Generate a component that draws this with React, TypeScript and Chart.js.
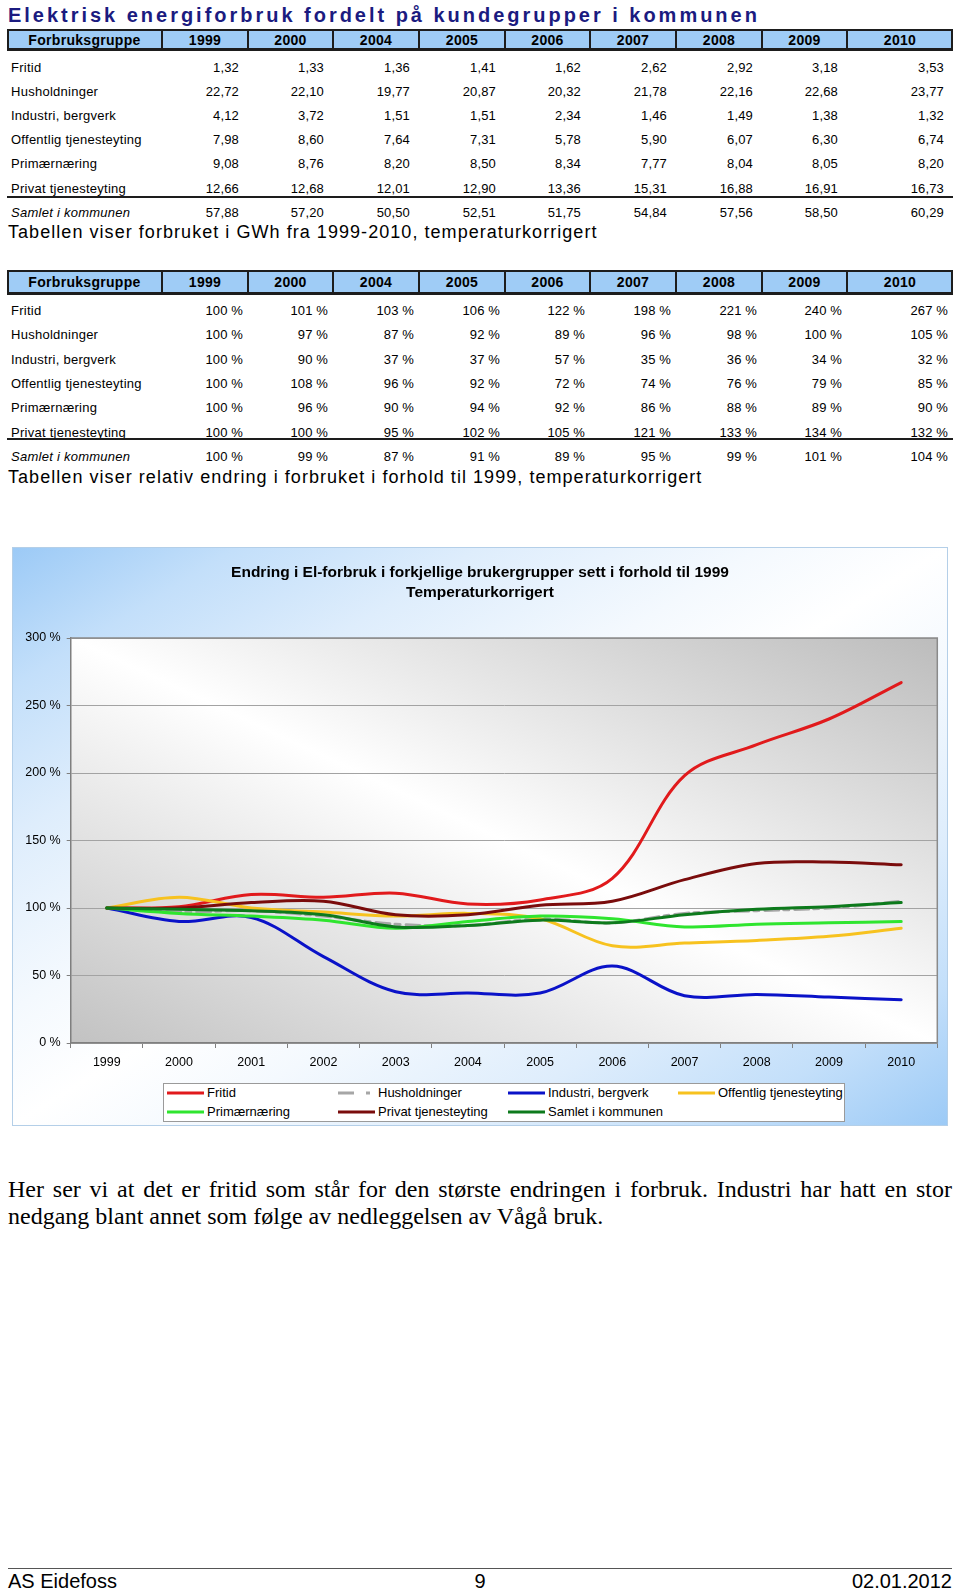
import React, { useEffect, useRef } from 'react';
import { Chart, registerables } from 'chart.js';

Chart.register(...registerables);

const SANS = '"Liberation Sans", Arial, Helvetica, sans-serif';
const SERIF = '"Liberation Serif", "Times New Roman", serif';

// ---------- Table data ----------
const tableYears = ['1999', '2000', '2004', '2005', '2006', '2007', '2008', '2009', '2010'];
const groupNames = [
  'Fritid',
  'Husholdninger',
  'Industri, bergverk',
  'Offentlig tjenesteyting',
  'Primærnæring',
  'Privat tjenesteyting',
];
const totalName = 'Samlet i kommunen';

const gwhFritid = [1.32, 1.33, 1.36, 1.41, 1.62, 2.62, 2.92, 3.18, 3.53];
const gwhHusholdninger = [22.72, 22.1, 19.77, 20.87, 20.32, 21.78, 22.16, 22.68, 23.77];
const gwhIndustri = [4.12, 3.72, 1.51, 1.51, 2.34, 1.46, 1.49, 1.38, 1.32];
const gwhOffentlig = [7.98, 8.6, 7.64, 7.31, 5.78, 5.9, 6.07, 6.3, 6.74];
const gwhPrimaer = [9.08, 8.76, 8.2, 8.5, 8.34, 7.77, 8.04, 8.05, 8.2];
const gwhPrivat = [12.66, 12.68, 12.01, 12.9, 13.36, 15.31, 16.88, 16.91, 16.73];
const gwhSamlet = [57.88, 57.2, 50.5, 52.51, 51.75, 54.84, 57.56, 58.5, 60.29];

const pctFritid = [100, 101, 103, 106, 122, 198, 221, 240, 267];
const pctHusholdninger = [100, 97, 87, 92, 89, 96, 98, 100, 105];
const pctIndustri = [100, 90, 37, 37, 57, 35, 36, 34, 32];
const pctOffentlig = [100, 108, 96, 92, 72, 74, 76, 79, 85];
const pctPrimaer = [100, 96, 90, 94, 92, 86, 88, 89, 90];
const pctPrivat = [100, 100, 95, 102, 105, 121, 133, 134, 132];
const pctSamlet = [100, 99, 87, 91, 89, 95, 99, 101, 104];

// ---------- Chart data ----------
const chartYears = ['1999', '2000', '2001', '2002', '2003', '2004', '2005', '2006', '2007', '2008', '2009', '2010'];
const chartFritid = [100, 101, 110, 108, 111, 103, 106, 122, 198, 221, 240, 267];
const chartHusholdninger = [100, 97, 98, 94, 88, 87, 92, 89, 96, 98, 100, 105];
const chartIndustri = [100, 90, 93, 64, 38, 37, 37, 57, 35, 36, 34, 32];
const chartOffentlig = [100, 108, 100, 97, 94, 96, 92, 72, 74, 76, 79, 85];
const chartPrimaer = [100, 96, 94, 91, 85, 90, 94, 92, 86, 88, 89, 90];
const chartPrivat = [100, 100, 104, 105, 95, 95, 102, 105, 121, 133, 134, 132];
const chartSamlet = [100, 99, 98, 95, 86, 87, 91, 89, 95, 99, 101, 104];
const yTicks = [0, 50, 100, 150, 200, 250, 300];

const seriesNames = [
  'Fritid',
  'Husholdninger',
  'Industri, bergverk',
  'Offentlig tjenesteyting',
  'Primærnæring',
  'Privat tjenesteyting',
  'Samlet i kommunen',
];
const seriesColors = ['#e11a1c', '#a6a6a6', '#0a12c8', '#f7c21f', '#2fe52f', '#7a0c0c', '#0d7a1c'];
const HUS_DASH = [14, 5, 5, 6];

const fmtNum = (v: number) => v.toFixed(2).replace('.', ',');
const fmtPct = (v: number) => `${v} %`;

const colEdges = [7, 162, 248, 333, 419, 505, 590, 676, 762, 847, 953];

type Row = { label: string; cells: string[]; italic?: boolean };

function DataTable(props: {
  headTop: number;
  headBottom: number;
  rowTop0: number;
  rowStep: number;
  underlineY: number;
  rows: Row[];
  padRight: number;
}) {
  const { headTop, headBottom, rowTop0, rowStep, underlineY, rows, padRight } = props;
  const hh = headBottom - headTop;
  const headers = ['Forbruksgruppe', ...tableYears];
  const els: React.ReactNode[] = [];
  els.push(
    <div
      key="hbg"
      style={{
        position: 'absolute',
        left: colEdges[0],
        top: headTop,
        width: colEdges[colEdges.length - 1] - colEdges[0],
        height: hh,
        background: '#9fccf6',
        border: '2px solid #1d1d1d',
        borderBottomWidth: 3,
        boxSizing: 'border-box',
      }}
    />
  );
  for (let i = 1; i < colEdges.length - 1; i++) {
    els.push(
      <div
        key={'vl' + i}
        style={{
          position: 'absolute',
          left: colEdges[i] - 0.75,
          top: headTop,
          width: 1.5,
          height: hh,
          background: '#1d1d1d',
        }}
      />
    );
  }
  headers.forEach((h, i) => {
    els.push(
      <div
        key={'h' + i}
        style={{
          position: 'absolute',
          left: colEdges[i],
          width: colEdges[i + 1] - colEdges[i],
          top: headTop,
          height: hh,
          lineHeight: hh + 'px',
          textAlign: 'center',
          fontFamily: SANS,
          fontWeight: 'bold',
          fontSize: 14,
          letterSpacing: 0.3,
          color: '#000',
        }}
      >
        {h}
      </div>
    );
  });
  rows.forEach((r, ri) => {
    const cy = rowTop0 + ri * rowStep;
    els.push(
      <div
        key={'l' + ri}
        style={{
          position: 'absolute',
          left: 11,
          top: cy - 10,
          height: 20,
          lineHeight: '20px',
          fontFamily: SANS,
          fontSize: 13,
          letterSpacing: 0.26,
          fontStyle: r.italic ? 'italic' : 'normal',
          whiteSpace: 'nowrap',
          color: '#000',
        }}
      >
        {r.label}
      </div>
    );
    r.cells.forEach((c, ci) => {
      els.push(
        <div
          key={'c' + ri + '_' + ci}
          style={{
            position: 'absolute',
            left: colEdges[ci + 1],
            width: colEdges[ci + 2] - colEdges[ci + 1] - padRight,
            top: cy - 10,
            height: 20,
            lineHeight: '20px',
            textAlign: 'right',
            fontFamily: SANS,
            fontSize: 13,
            letterSpacing: 0.15,
            whiteSpace: 'nowrap',
            color: '#000',
          }}
        >
          {c}
        </div>
      );
    });
  });
  els.push(
    <div
      key="ul"
      style={{
        position: 'absolute',
        left: colEdges[0],
        top: underlineY - 1,
        width: colEdges[colEdges.length - 1] - colEdges[0],
        height: 2,
        background: '#1d1d1d',
      }}
    />
  );
  return <>{els}</>;
}

function LineChart() {
  const ref = useRef<HTMLCanvasElement>(null);
  useEffect(() => {
    if (!ref.current) return;
    const plotBg = {
      id: 'plotBg',
      beforeDraw(chart: any) {
        const { ctx, chartArea } = chart;
        const { left, top, right, bottom } = chartArea;
        const w = right - left;
        const h = bottom - top;
        const cx = (left + right) / 2;
        const cy = (top + bottom) / 2;
        const L = Math.hypot(w, h);
        const nx = -h / L;
        const ny = w / L;
        const half = (w * h) / L;
        const g = ctx.createLinearGradient(cx - nx * half, cy - ny * half, cx + nx * half, cy + ny * half);
        g.addColorStop(0, '#bcbcbc');
        g.addColorStop(0.5, '#ffffff');
        g.addColorStop(1, '#c2c2c2');
        ctx.save();
        ctx.fillStyle = g;
        ctx.fillRect(left, top, w, h);
        ctx.restore();
      },
      beforeDatasetsDraw(chart: any) {
        const { ctx, chartArea } = chart;
        const { left, top, right, bottom } = chartArea;
        ctx.save();
        ctx.strokeStyle = '#8a8a8a';
        ctx.lineWidth = 1.5;
        ctx.beginPath();
        ctx.moveTo(left, top);
        ctx.lineTo(right, top);
        ctx.lineTo(right, bottom);
        ctx.stroke();
        ctx.restore();
      },
    };
    const seriesData = [
      chartFritid,
      chartHusholdninger,
      chartIndustri,
      chartOffentlig,
      chartPrimaer,
      chartPrivat,
      chartSamlet,
    ];
    const chart = new Chart(ref.current, {
      type: 'line',
      data: {
        labels: chartYears,
        datasets: seriesData.map((d, i) => ({
          label: seriesNames[i],
          data: d,
          borderColor: seriesColors[i],
          backgroundColor: seriesColors[i],
          borderWidth: 3,
          borderDash: i === 1 ? HUS_DASH : [],
          pointRadius: 0,
          tension: 0.35,
          fill: false,
          order: 6 - i,
          borderCapStyle: 'round' as const,
        })),
      },
      options: {
        responsive: false,
        animation: false,
        layout: { padding: { left: 0, top: 91, right: 10.7, bottom: 0 } },
        plugins: {
          legend: { display: false },
          title: { display: false },
          tooltip: { enabled: false },
        },
        scales: {
          x: {
            type: 'category',
            offset: true,
            grid: {
              offset: true,
              drawOnChartArea: false,
              drawTicks: true,
              tickLength: 5,
              tickColor: '#7f7f7f',
            },
            border: { display: true, color: '#7f7f7f', width: 1.5 },
            ticks: {
              color: '#000',
              padding: 7,
              maxRotation: 0,
              autoSkip: false,
              font: { family: SANS, size: 12.5 },
            },
            afterFit: (s: any) => {
              s.height = 83;
            },
          },
          y: {
            min: yTicks[0],
            max: yTicks[yTicks.length - 1],
            afterBuildTicks: (s: any) => {
              s.ticks = yTicks.map((v) => ({ value: v }));
            },
            grid: { color: '#a3a3a3', lineWidth: 1, tickLength: 4, tickColor: '#7f7f7f' },
            border: { display: true, color: '#7f7f7f', width: 1.5 },
            ticks: {
              color: '#000',
              padding: 6,
              font: { family: SANS, size: 12.5 },
              callback: (v: any) => `${v} %`,
            },
            afterFit: (s: any) => {
              s.width = 58.7;
            },
          },
        },
      },
      plugins: [plotBg],
    } as any);
    return () => chart.destroy();
  }, []);
  return (
    <canvas
      ref={ref}
      width={936}
      height={579}
      style={{ position: 'absolute', left: 12, top: 547, width: 936, height: 579 }}
    />
  );
}

function Legend() {
  const items = [
    { i: 0, x: 167, y: 1092.7 },
    { i: 1, x: 338, y: 1092.7 },
    { i: 2, x: 508, y: 1092.7 },
    { i: 3, x: 678, y: 1092.7 },
    { i: 4, x: 167, y: 1112.3 },
    { i: 5, x: 338, y: 1112.3 },
    { i: 6, x: 508, y: 1112.3 },
  ];
  return (
    <>
      <div
        style={{
          position: 'absolute',
          left: 163,
          top: 1083,
          width: 682,
          height: 39,
          background: '#ffffff',
          border: '1px solid #9a9a9a',
          boxSizing: 'border-box',
        }}
      />
      {items.map((it) => (
        <React.Fragment key={it.i}>
          <svg
            width={38}
            height={6}
            style={{ position: 'absolute', left: it.x, top: it.y - 3 }}
          >
            <line
              x1={0}
              y1={3}
              x2={37}
              y2={3}
              stroke={seriesColors[it.i]}
              strokeWidth={3}
              strokeDasharray={it.i === 1 ? '16 12 4 20' : undefined}
            />
          </svg>
          <div
            style={{
              position: 'absolute',
              left: it.x + 40,
              top: it.y - 9,
              height: 18,
              lineHeight: '18px',
              fontFamily: SANS,
              fontSize: 13,
              color: '#000',
              whiteSpace: 'nowrap',
            }}
          >
            {seriesNames[it.i]}
          </div>
        </React.Fragment>
      ))}
    </>
  );
}

export default function App() {
  const rows1: Row[] = [
    { label: groupNames[0], cells: gwhFritid.map(fmtNum) },
    { label: groupNames[1], cells: gwhHusholdninger.map(fmtNum) },
    { label: groupNames[2], cells: gwhIndustri.map(fmtNum) },
    { label: groupNames[3], cells: gwhOffentlig.map(fmtNum) },
    { label: groupNames[4], cells: gwhPrimaer.map(fmtNum) },
    { label: groupNames[5], cells: gwhPrivat.map(fmtNum) },
    { label: totalName, cells: gwhSamlet.map(fmtNum), italic: true },
  ];
  const rows2: Row[] = [
    { label: groupNames[0], cells: pctFritid.map(fmtPct) },
    { label: groupNames[1], cells: pctHusholdninger.map(fmtPct) },
    { label: groupNames[2], cells: pctIndustri.map(fmtPct) },
    { label: groupNames[3], cells: pctOffentlig.map(fmtPct) },
    { label: groupNames[4], cells: pctPrimaer.map(fmtPct) },
    { label: groupNames[5], cells: pctPrivat.map(fmtPct) },
    { label: totalName, cells: pctSamlet.map(fmtPct), italic: true },
  ];

  const caption = (text: string, cy: number) => (
    <div
      style={{
        position: 'absolute',
        left: 8,
        top: cy - 11,
        height: 22,
        lineHeight: '22px',
        fontFamily: SANS,
        fontSize: 18,
        letterSpacing: 1.05,
        whiteSpace: 'nowrap',
        color: '#000',
      }}
    >
      {text}
    </div>
  );

  return (
    <div
      style={{
        position: 'absolute',
        left: 0,
        top: 0,
        width: 960,
        height: 1592,
        overflow: 'hidden',
        background: '#ffffff',
      }}
    >
      <div
        style={{
          position: 'absolute',
          left: 8,
          top: 3,
          height: 24,
          lineHeight: '24px',
          fontFamily: SANS,
          fontWeight: 'bold',
          fontSize: 20,
          letterSpacing: 2.98,
          color: '#1b1b80',
          whiteSpace: 'nowrap',
        }}
      >
        Elektrisk energiforbruk fordelt på kundegrupper i kommunen
      </div>

      <DataTable
        headTop={29}
        headBottom={51}
        rowTop0={67.5}
        rowStep={24.2}
        underlineY={196.7}
        rows={rows1}
        padRight={9}
      />
      {caption('Tabellen viser forbruket i GWh fra 1999-2010, temperaturkorrigert', 231.5)}

      <DataTable
        headTop={270}
        headBottom={295}
        rowTop0={311}
        rowStep={24.33}
        underlineY={439}
        rows={rows2}
        padRight={5}
      />
      {caption('Tabellen viser relativ endring i forbruket i forhold til 1999, temperaturkorrigert', 476.7)}

      {/* Chart frame */}
      <div
        style={{
          position: 'absolute',
          left: 12,
          top: 547,
          width: 936,
          height: 579,
          boxSizing: 'border-box',
          border: '1px solid #b4cfe8',
          background:
            'linear-gradient(to bottom right, #9ccaf6 0%, #c3dffa 12%, #deedfc 25%, #f4f9fe 40%, #ffffff 50%, #f4f9fe 60%, #deedfc 75%, #c3dffa 88%, #9ccaf6 100%)',
        }}
      />
      <LineChart />
      <div
        style={{
          position: 'absolute',
          left: 12,
          width: 936,
          top: 562,
          textAlign: 'center',
          fontFamily: SANS,
          fontWeight: 'bold',
          fontSize: 15.5,
          lineHeight: '20px',
          color: '#000',
        }}
      >
        <div>Endring i El-forbruk i forkjellige brukergrupper sett i forhold til 1999</div>
        <div>Temperaturkorrigert</div>
      </div>
      <Legend />

      {/* Paragraph */}
      <div
        style={{
          position: 'absolute',
          left: 8,
          width: 944,
          top: 1175.5,
          fontFamily: SERIF,
          fontSize: 24,
          lineHeight: '27px',
          color: '#000',
        }}
      >
        <div style={{ textAlign: 'justify', textAlignLast: 'justify' as any }}>
          Her ser vi at det er fritid som står for den største endringen i forbruk. Industri har hatt en stor
        </div>
        <div>nedgang blant annet som følge av nedleggelsen av Vågå bruk.</div>
      </div>

      {/* Footer */}
      <div
        style={{
          position: 'absolute',
          left: 8,
          top: 1567.5,
          width: 944,
          height: 1.5,
          background: '#555555',
        }}
      />
      <div
        style={{
          position: 'absolute',
          left: 8,
          width: 944,
          top: 1570,
          height: 22,
          lineHeight: '22px',
          fontFamily: SANS,
          fontSize: 20,
          color: '#000',
        }}
      >
        <span style={{ position: 'absolute', left: 0 }}>AS Eidefoss</span>
        <span style={{ position: 'absolute', left: 0, width: 944, textAlign: 'center' }}>9</span>
        <span style={{ position: 'absolute', right: 0 }}>02.01.2012</span>
      </div>
    </div>
  );
}
